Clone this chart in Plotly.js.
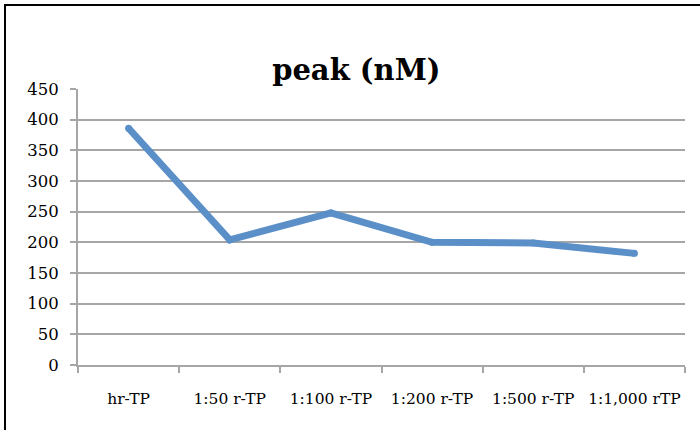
<!DOCTYPE html>
<html>
<head>
<meta charset="utf-8">
<script src="https://cdn.plot.ly/plotly-3.0.1.min.js"></script>
<style>
  html, body { margin: 0; padding: 0; background: #fff; }
  #wrap { position: relative; width: 700px; height: 430px; overflow: hidden; }
  #chart { position: absolute; left: 0; top: 0; width: 700px; height: 430px; }
  #frame {
    position: absolute; left: 4px; top: 4px; width: 720px; height: 450px;
    border-left: 2px solid #000; border-top: 2px solid #000; pointer-events: none;
  }
</style>
</head>
<body>
<div id="wrap">
  <div id="chart"></div>
  <div id="frame"></div>
</div>
<script>
// Peak concentration per sample
const categories = ["hr-TP", "1:50 r-TP", "1:100 r-TP", "1:200 r-TP", "1:500 r-TP", "1:1,000 rTP"];
const peakValues = [386, 204, 248, 200, 199, 182];
const yTicks = [0, 50, 100, 150, 200, 250, 300, 350, 400, 450];

const lineColor = "#5b8fc8";
const gridColor = "#a6a6a6";
const font = "'DejaVu Serif', 'Liberation Serif', serif";

const trace = {
  x: categories,
  y: peakValues,
  type: "scatter",
  mode: "lines+markers",
  line: { color: lineColor, width: 7 },
  marker: { color: lineColor, size: 7 },
  hoverinfo: "x+y"
};

const layout = {
  width: 700,
  height: 430,
  margin: { l: 78, r: 15, t: 89, b: 65 },
  paper_bgcolor: "#ffffff",
  plot_bgcolor: "#ffffff",
  showlegend: false,
  font: { family: font, color: "#000", size: 16 },
  title: {
    text: "<b>peak (nM)</b>",
    font: { family: font, size: 29, color: "#000" },
    xref: "container", x: 0.509, xanchor: "center",
    yref: "container", y: 0.837, yanchor: "middle"
  },
  xaxis: {
    type: "category",
    categoryorder: "array",
    categoryarray: categories,
    range: [-0.5, categories.length - 0.5],
    showgrid: false,
    showline: true,
    linecolor: gridColor,
    linewidth: 2,
    ticks: "outside",
    tickson: "boundaries",
    ticklen: 6,
    tickcolor: gridColor,
    tickwidth: 2,
    tickangle: 0,
    ticklabelstandoff: 18,
    tickfont: { family: font, size: 15.5, color: "#000" },
    fixedrange: true
  },
  yaxis: {
    range: [0, 450],
    tickmode: "array",
    tickvals: yTicks,
    ticktext: yTicks.map(String),
    showgrid: true,
    gridcolor: gridColor,
    gridwidth: 2,
    zeroline: false,
    showline: true,
    linecolor: gridColor,
    linewidth: 2,
    ticks: "outside",
    ticklen: 6,
    tickcolor: gridColor,
    tickwidth: 2,
    ticklabelstandoff: 8,
    tickfont: { family: font, size: 16.5, color: "#000" },
    fixedrange: true
  }
};

Plotly.newPlot("chart", [trace], layout, { displayModeBar: false, staticPlot: true });
</script>
</body>
</html>
